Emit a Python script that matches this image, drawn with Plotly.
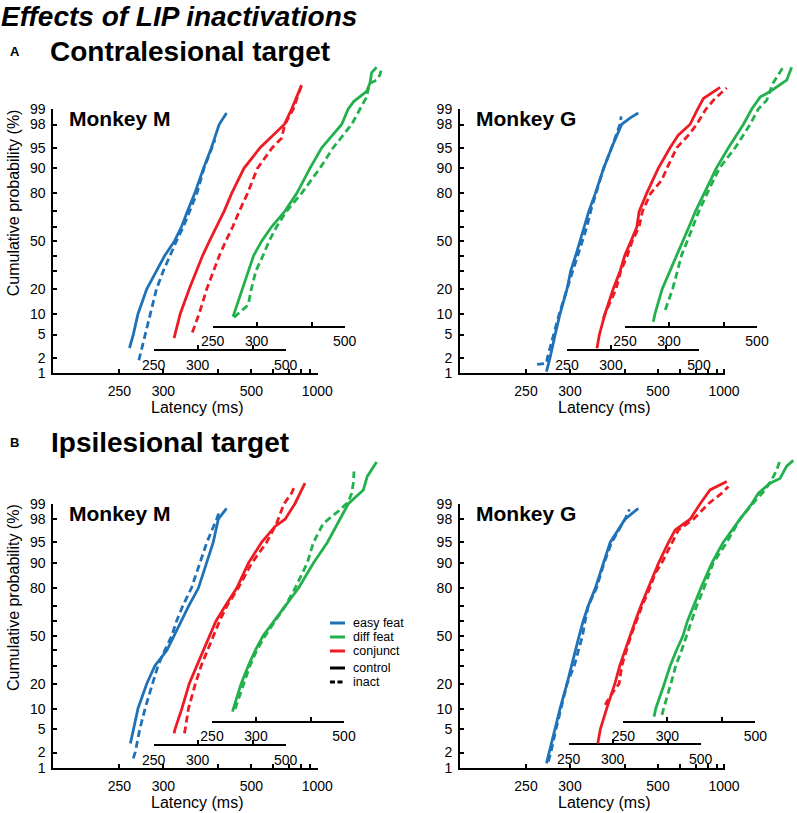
import plotly.graph_objects as go
from statistics import NormalDist

# ---------------- data: latency (ms) vs cumulative probability (%) ----------------
# A. Contralesional target, Monkey M
AM_easy_ctrl_pct = [3.0, 5, 10, 20, 30, 40, 50, 60, 70, 80, 90, 95, 98, 98.8]
AM_easy_ctrl_lat = [260, 264, 269, 279, 291, 302, 316, 327, 337, 350, 367, 384, 402, 421]
AM_easy_inact_pct = [1.8, 5, 10, 20, 30, 40, 50, 60, 70, 80, 90, 95, 96.3]
AM_easy_inact_lat = [270, 277, 283, 291, 300, 309, 319, 330, 340, 354, 368, 384, 392]
AM_conj_ctrl_pct = [4.4, 5, 10, 20, 30, 40, 50, 60, 70, 80, 90, 95, 98, 99, 99.7]
AM_conj_ctrl_lat = [271, 272, 278, 289, 298, 307, 317, 328, 341, 355, 380, 419, 495, 524, 569]
AM_conj_inact_pct = [5.4, 10, 20, 30, 40, 50, 60, 70, 80, 90, 95, 96.5, 98, 99, 99.7]
AM_conj_inact_lat = [293, 302, 313, 323, 333, 344, 357, 370, 388, 412, 454, 485, 497, 531, 569]
AM_diff_ctrl_pct = [9.2, 10, 20, 30, 40, 50, 60, 70, 80, 90, 95, 98, 99, 99.3, 99.58, 99.73, 99.85, 99.89]
AM_diff_ctrl_lat = [271, 272, 281, 289, 296, 307, 322, 344, 367, 396, 426, 489, 514, 537, 600, 619, 629, 660]
AM_diff_inact_pct = [9.0, 13.1, 20, 30, 40, 50, 60, 70, 80, 90, 95, 98, 99, 99.4, 99.73, 99.77, 99.83, 99.885]
AM_diff_inact_lat = [272, 289, 293, 299, 309, 318, 330, 347, 377, 421, 460, 528, 566, 596, 619, 660, 683, 695]

# A. Contralesional target, Monkey G
AG_easy_ctrl_pct = [1.08, 2, 5, 10, 20, 30, 40, 50, 60, 70, 80, 90, 95, 98, 98.5, 98.8]
AG_easy_ctrl_lat = [271, 275, 281, 287, 296, 301, 308, 314, 321, 328, 339, 354, 370, 392, 413, 435]
AG_easy_inact_pct = [1.5, 1.58, 2, 5, 10, 20, 30, 40, 50, 60, 70, 80, 90, 95, 98, 98.6]
AG_easy_inact_lat = [261, 271, 272, 279, 286, 296, 304, 311, 318, 325, 331, 340, 354, 370, 388, 391]
AG_conj_ctrl_pct = [2.96, 5, 10, 20, 30, 40, 50, 60, 70, 80, 90, 95, 96.9, 98, 99, 99.4, 99.66]
AG_conj_ctrl_lat = [282, 285, 292, 303, 313, 320, 330, 340, 344, 358, 382, 410, 432, 468, 495, 517, 595]
AG_conj_inact_pct = [8.7, 10, 20, 30, 40, 50, 60, 70, 80, 85.9, 90, 95, 96.9, 98, 99, 99.4, 99.65]
AG_conj_inact_lat = [290, 292, 307, 314, 324, 332, 344, 350, 366, 390, 402, 428, 463, 491, 528, 569, 633]
AG_diff_ctrl_pct = [7.8, 10, 20, 30, 40, 50, 60, 70, 80, 90, 95, 98, 99, 99.44, 99.58, 99.77, 99.89]
AG_diff_ctrl_lat = [280, 282, 291, 301, 311, 320, 330, 341, 357, 382, 411, 453, 481, 512, 555, 645, 678]
AG_diff_inact_pct = [11.3, 20, 30, 40, 50, 60, 70, 80, 90, 95, 98, 99, 99.35, 99.73, 99.86, 99.89]
AG_diff_inact_lat = [295, 305, 312, 318, 327, 336, 347, 363, 389, 429, 475, 505, 540, 569, 606, 623]

# B. Ipsilesional target, Monkey M
BM_easy_ctrl_pct = [2.9, 5, 10, 20, 30, 40, 50, 60, 70, 80, 90, 95, 98, 98.76]
BM_easy_ctrl_lat = [261, 264, 269, 279, 289, 305, 315, 326, 339, 357, 374, 388, 400, 421]
BM_easy_inact_pct = [1.55, 2, 5, 10, 20, 30, 40, 50, 60, 70, 80, 90, 95, 98, 98.67]
BM_easy_inact_lat = [264, 266, 271, 277, 286, 293, 302, 312, 319, 329, 344, 360, 374, 396, 404]
BM_conj_ctrl_pct = [4.3, 5, 10, 20, 30, 40, 50, 60, 70, 80, 90, 95, 97.3, 98, 99, 99.4, 99.64]
BM_conj_ctrl_lat = [271, 272, 280, 289, 299, 308, 318, 327, 343, 365, 390, 423, 463, 498, 538, 561, 586]
BM_conj_inact_pct = [4.3, 5, 10, 20, 30, 40, 50, 60, 70, 80, 90, 95, 97.6, 99, 99.4, 99.6]
BM_conj_inact_lat = [283, 284, 288, 297, 305, 314, 323, 333, 346, 368, 398, 437, 468, 494, 524, 538]
BM_diff_ctrl_pct = [9.1, 10, 20, 30, 40, 50, 60, 70, 80, 90, 95, 98, 99, 99.49, 99.75, 99.89]
BM_diff_ctrl_lat = [271, 272, 281, 290, 299, 310, 326, 346, 372, 406, 444, 485, 517, 586, 607, 664]
BM_diff_inact_pct = [9.9, 20, 30, 40, 50, 60, 70, 80, 90, 95, 97.6, 98.67, 99.09, 99.4, 99.64, 99.81]
BM_diff_inact_lat = [274, 284, 292, 301, 313, 328, 346, 365, 391, 406, 432, 485, 517, 531, 538, 541]

# B. Ipsilesional target, Monkey G
BG_easy_ctrl_pct = [1.24, 2, 5, 10, 20, 30, 40, 50, 60, 70, 80, 90, 95, 98, 98.76]
BG_easy_ctrl_lat = [271, 274, 281, 287, 296, 302, 308, 313, 319, 327, 339, 354, 367, 400, 435]
BG_easy_inact_pct = [1.34, 2, 5, 10, 20, 30, 40, 50, 60, 70, 80, 90, 95, 98, 98.7]
BG_easy_inact_lat = [273, 276, 282, 288, 296, 306, 312, 318, 322, 327, 341, 355, 370, 400, 411]
BG_conj_ctrl_pct = [2.9, 5, 10, 20, 30, 40, 50, 60, 70, 80, 90, 95, 96.9, 98, 99, 99.49, 99.67]
BG_conj_ctrl_lat = [281, 284, 292, 303, 310, 318, 325, 334, 344, 358, 379, 402, 419, 463, 498, 538, 623]
BG_conj_inact_pct = [11.2, 14.2, 20, 30, 40, 50, 60, 70, 80, 86.5, 90, 95, 96.9, 98, 99, 99.4, 99.57]
BG_conj_inact_lat = [290, 296, 309, 313, 320, 327, 336, 346, 361, 372, 386, 410, 428, 474, 531, 595, 633]
BG_diff_ctrl_pct = [7.75, 10, 20, 30, 40, 50, 60, 70, 80, 90, 95, 98, 99, 99.4, 99.64, 99.72, 99.86, 99.9]
BG_diff_ctrl_lat = [283, 285, 296, 304, 313, 323, 330, 340, 354, 376, 402, 448, 487, 512, 563, 615, 656, 702]
BG_diff_inact_pct = [8.2, 10, 20, 30, 40, 50, 60, 70, 80, 90, 95, 98, 99, 99.49, 99.7, 99.82, 99.9]
BG_diff_inact_lat = [293, 295, 305, 312, 321, 329, 337, 346, 360, 379, 411, 448, 490, 540, 571, 596, 615]

# axis ticks
X_TICKS = [250, 300, 400, 500, 600, 700, 800, 900, 1000]
X_TICK_LABELS = ["250", "300", "", "500", "", "", "", "", "1000"]
OFF_TICKS = [250, 300, 400, 500]
OFF_TICK_LABELS = ["250", "300", "", "500"]
Y_TICKS = [1, 2, 5, 10, 20, 30, 40, 50, 60, 70, 80, 90, 95, 98, 99]
Y_TICK_LABELS = ["1", "2", "5", "10", "20", "", "", "50", "", "", "80", "90", "95", "98", "99"]

COLORS = {"easy": "#1f72b8", "diff": "#22b14c", "conj": "#ed1c24"}

# ---------------- layout geometry (pixels) ----------------
W, H = 797, 813
PXU = 66000.0      # pixels per unit of -1/latency (1/ms)
PZ = 56.8          # pixels per probit unit
X_LEFT = -1.0 / 200
FONT = "Liberation Sans, Arial, sans-serif"
ND = NormalDist()


def z(p):
    return ND.inv_cdf(p / 100.0)


def recip(lat):
    return [-1.0 / v for v in lat]


def fx(px):
    return px / W


def fy(py):
    return 1 - py / H


panels = [
    dict(x0=53.3, yb=373.3, xr=400, ytop=55, sr=34.3, sg=93.3, yr=350.0, yg=326.7, name="Monkey M",
         curves=[("easy", "solid", AM_easy_ctrl_lat, AM_easy_ctrl_pct), ("easy", "dash", AM_easy_inact_lat, AM_easy_inact_pct),
                 ("conj", "solid", AM_conj_ctrl_lat, AM_conj_ctrl_pct), ("conj", "dash", AM_conj_inact_lat, AM_conj_inact_pct),
                 ("diff", "solid", AM_diff_ctrl_lat, AM_diff_ctrl_pct), ("diff", "dash", AM_diff_inact_lat, AM_diff_inact_pct)]),
    dict(x0=460.0, yb=373.3, xr=797, ytop=55, sr=41.0, sg=99.0, yr=350.0, yg=326.7, name="Monkey G",
         curves=[("easy", "solid", AG_easy_ctrl_lat, AG_easy_ctrl_pct), ("easy", "dash", AG_easy_inact_lat, AG_easy_inact_pct),
                 ("conj", "solid", AG_conj_ctrl_lat, AG_conj_ctrl_pct), ("conj", "dash", AG_conj_inact_lat, AG_conj_inact_pct),
                 ("diff", "solid", AG_diff_ctrl_lat, AG_diff_ctrl_pct), ("diff", "dash", AG_diff_inact_lat, AG_diff_inact_pct)]),
    dict(x0=53.3, yb=768.0, xr=400, ytop=448, sr=34.3, sg=92.7, yr=745.0, yg=721.7, name="Monkey M",
         curves=[("easy", "solid", BM_easy_ctrl_lat, BM_easy_ctrl_pct), ("easy", "dash", BM_easy_inact_lat, BM_easy_inact_pct),
                 ("conj", "solid", BM_conj_ctrl_lat, BM_conj_ctrl_pct), ("conj", "dash", BM_conj_inact_lat, BM_conj_inact_pct),
                 ("diff", "solid", BM_diff_ctrl_lat, BM_diff_ctrl_pct), ("diff", "dash", BM_diff_inact_lat, BM_diff_inact_pct)]),
    dict(x0=460.0, yb=768.0, xr=797, ytop=448, sr=42.7, sg=97.3, yr=744.3, yg=721.7, name="Monkey G",
         curves=[("easy", "solid", BG_easy_ctrl_lat, BG_easy_ctrl_pct), ("easy", "dash", BG_easy_inact_lat, BG_easy_inact_pct),
                 ("conj", "solid", BG_conj_ctrl_lat, BG_conj_ctrl_pct), ("conj", "dash", BG_conj_inact_lat, BG_conj_inact_pct),
                 ("diff", "solid", BG_diff_ctrl_lat, BG_diff_ctrl_pct), ("diff", "dash", BG_diff_inact_lat, BG_diff_inact_pct)]),
]

fig = go.Figure()
layout = {}
annotations = []
shapes = []

axis_common = dict(showgrid=False, zeroline=False, showline=True, linecolor="black", linewidth=2,
                   ticks="inside", ticklen=4, tickwidth=1.5, tickcolor="black", automargin=False,
                   tickfont=dict(family=FONT, size=14, color="black"), fixedrange=True)


def xname(k):
    return "xaxis" if k == 1 else f"xaxis{k}"


def yname(k):
    return "yaxis" if k == 1 else f"yaxis{k}"


def xref(k):
    return "x" if k == 1 else f"x{k}"


def yref(k):
    return "y" if k == 1 else f"y{k}"


Z99 = z(99)
for i, p in enumerate(panels):
    b = i * 6
    yd, yt = i * 2 + 1, i * 2 + 2
    x0, yb = p["x0"], p["yb"]
    main_w = 265.0

    # display main axes
    layout[xname(b + 1)] = dict(axis_common, domain=[fx(x0), fx(x0 + main_w)],
                                range=[X_LEFT, X_LEFT + main_w / PXU], anchor=yref(yd),
                                tickvals=recip(X_TICKS), ticktext=X_TICK_LABELS, ticklabelstandoff=4)
    layout[yname(yd)] = dict(axis_common, domain=[fy(yb), fy(yb - 2 * Z99 * PZ)],
                             range=[-Z99, Z99], anchor=xref(b + 1),
                             tickvals=[z(v) for v in Y_TICKS], ticktext=Y_TICK_LABELS, ticklabelstandoff=3)
    # offset axes for conjunction (red) and difficult feature (green)
    for k, s, ypos in ((b + 2, p["sr"], p["yr"]), (b + 3, p["sg"], p["yg"])):
        d0 = x0 + s + (-1 / 250 - X_LEFT) * PXU
        d1 = x0 + s + (-1 / 500 - X_LEFT) * PXU
        layout[xname(k)] = dict(axis_common, domain=[fx(d0), fx(d1)], range=[-1 / 250, -1 / 500],
                                anchor="free", position=fy(ypos), linewidth=1.8,
                                tickvals=recip(OFF_TICKS), ticktext=OFF_TICK_LABELS, ticklabelstandoff=2)
        fig.add_trace(go.Scatter(x=[None], y=[None], xaxis=xref(k), yaxis=yref(yd),
                                 showlegend=False, hoverinfo="skip"))
    fig.add_trace(go.Scatter(x=[None], y=[None], xaxis=xref(b + 1), yaxis=yref(yd),
                             showlegend=False, hoverinfo="skip"))

    # hidden axes carrying the curves (same scale, larger domain, shifted ranges)
    span = p["xr"] - x0
    for k, s in ((b + 4, 0.0), (b + 5, p["sr"]), (b + 6, p["sg"])):
        r0 = X_LEFT - s / PXU
        layout[xname(k)] = dict(domain=[fx(x0), fx(p["xr"])], range=[r0, r0 + span / PXU],
                                anchor=yref(yt), visible=False, fixedrange=True, automargin=False)
    pad = 8.0
    zlo = -Z99 - pad / PZ
    layout[yname(yt)] = dict(domain=[fy(yb + pad), fy(p["ytop"])],
                             range=[zlo, zlo + (yb + pad - p["ytop"]) / PZ],
                             anchor=xref(b + 4), visible=False, fixedrange=True, automargin=False)

    axis_for = {"easy": b + 4, "conj": b + 5, "diff": b + 6}
    for cond, dash, lat, pct in p["curves"]:
        fig.add_trace(go.Scatter(
            x=recip(lat), y=[z(v) for v in pct], mode="lines",
            line=dict(color=COLORS[cond], width=2.8, dash="7px,4px" if dash == "dash" else "solid"),
            xaxis=xref(axis_for[cond]), yaxis=yref(yt), showlegend=False, hoverinfo="skip"))

    # panel label
    annotations.append(dict(text="<b>" + p["name"] + "</b>", x=fx(x0 + 14), y=fy(yb - 255),
                            xref="paper", yref="paper", xanchor="left", yanchor="middle", showarrow=False,
                            font=dict(family=FONT, size=21, color="black")))
    # x title
    annotations.append(dict(text="Latency (ms)", x=fx(x0 + 144), y=fy(yb + 34),
                            xref="paper", yref="paper", xanchor="center", yanchor="middle", showarrow=False,
                            font=dict(family=FONT, size=16, color="black")))
    if i % 2 == 0:
        annotations.append(dict(text="Cumulative probability (%)", x=fx(13), y=fy(yb - 170),
                                xref="paper", yref="paper", xanchor="center", yanchor="middle",
                                textangle=-90, showarrow=False,
                                font=dict(family=FONT, size=16, color="black")))

# headings
annotations.append(dict(text="<b><i>Effects of LIP inactivations</i></b>", x=fx(0), y=fy(0),
                        xref="paper", yref="paper", xanchor="left", yanchor="top", showarrow=False,
                        borderpad=0, font=dict(family=FONT, size=28, color="black")))
headings = [
    dict(text="<b>A</b>", x=fx(8), y=fy(51), size=13),
    dict(text="<b>Contralesional target</b>", x=fx(48), y=fy(51), size=28),
    dict(text="<b>B</b>", x=fx(8), y=fy(443), size=13),
    dict(text="<b>Ipsilesional target</b>", x=fx(49), y=fy(443), size=28),
]
for hd in headings:
    annotations.append(dict(text=hd["text"], x=hd["x"], y=hd["y"], xref="paper", yref="paper",
                            xanchor="left", yanchor="middle", showarrow=False,
                            font=dict(family=FONT, size=hd["size"], color="black")))

# legend (inside panel B, Monkey M)
legend_rows = [("easy feat", COLORS["easy"], "solid", 623.0), ("diff feat", COLORS["diff"], "solid", 637.0),
               ("conjunct", COLORS["conj"], "solid", 651.0), ("control", "black", "solid", 668.0),
               ("inact", "black", "dash", 682.0)]
for label, col, dash, yy in legend_rows:
    shapes.append(dict(type="line", xref="paper", yref="paper", x0=fx(330), x1=fx(345), y0=fy(yy), y1=fy(yy),
                       line=dict(color=col, width=3, dash="5px,2.5px" if dash == "dash" else "solid")))
    annotations.append(dict(text=label, x=fx(351), y=fy(yy), xref="paper", yref="paper", xanchor="left",
                            yanchor="middle", showarrow=False, font=dict(family=FONT, size=12.5, color="black")))

fig.update_layout(
    width=W, height=H, autosize=False, margin=dict(l=0, r=0, t=0, b=0, pad=0, autoexpand=False),
    paper_bgcolor="white", plot_bgcolor="rgba(0,0,0,0)",
    showlegend=False, annotations=annotations, shapes=shapes, **layout)

fig.write_html("out.html", config={"displayModeBar": False},
               post_script="document.body.style.margin='0';document.body.style.overflow='hidden';")
